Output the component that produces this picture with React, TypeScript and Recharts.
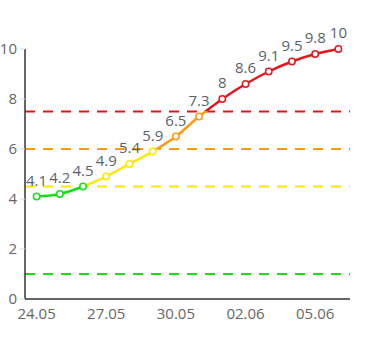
import React from 'react';
import { LineChart, Line, XAxis, YAxis, ReferenceLine, LabelList } from 'recharts';

const dates = ['24.05', '25.05', '26.05', '27.05', '28.05', '29.05', '30.05', '31.05', '01.06', '02.06', '03.06', '04.06', '05.06', '06.06'];
const values = [4.1, 4.2, 4.5, 4.9, 5.4, 5.9, 6.5, 7.3, 8, 8.6, 9.1, 9.5, 9.8, 10];
const yTicks = [0, 2, 4, 6, 8, 10];

// level limits and their colours (value <= limit)
const limits = [4.5, 6, 7.5];
const levelColors = ['#14e014', '#ffe600', '#ff9a0e', '#e8141c'];
const refLines = [1, 4.5, 6, 7.5];
const refColors = ['#14e014', '#ffe600', '#ff9a0e', '#e8141c'];

const chartData = dates.map((d, i) => ({ date: d, value: values[i] }));

const colorFor = (v: number) => {
    for (let i = 0; i < limits.length; i++) {
        if (v <= limits[i]) return levelColors[i];
    }
    return levelColors[levelColors.length - 1];
};

const maxV = Math.max(...values);
const minV = Math.min(...values);

// hard-stop gradient from top (max) to bottom (min)
const stops: { offset: number; color: string }[] = [];
{
    const desc = [...limits].reverse(); // 7.5, 6, 4.5
    let prev = 0;
    let colorIdx = levelColors.length - 1;
    desc.forEach((t) => {
        const off = Math.min(1, Math.max(0, (maxV - t) / (maxV - minV)));
        stops.push({ offset: prev, color: levelColors[colorIdx] });
        stops.push({ offset: off, color: levelColors[colorIdx] });
        prev = off;
        colorIdx--;
    });
    stops.push({ offset: prev, color: levelColors[0] });
    stops.push({ offset: 1, color: levelColors[0] });
}

const Dot = (props: any) => {
    const { cx, cy, payload, index } = props;
    if (cx == null || cy == null) return null;
    return (
        <circle key={`dot-${index}`} cx={cx} cy={cy} r={3.2} fill="#fff" stroke={colorFor(payload.value)} strokeWidth={1.5} />
    );
};

export default function App() {
    return (
        <div style={{ position: 'absolute', left: 0, top: 0, fontFamily: '"Open Sans", sans-serif' }}>
            <LineChart width={375} height={350} data={chartData} margin={{ top: 49, right: 25, bottom: 21, left: 0 }}>
                <defs>
                    <linearGradient id="levelGrad" x1="0" y1="0" x2="0" y2="1">
                        {stops.map((s, i) => (
                            <stop key={i} offset={s.offset} stopColor={s.color} />
                        ))}
                    </linearGradient>
                </defs>
                <XAxis
                    dataKey="date"
                    interval={2}
                    padding={{ left: 11.6, right: 11.6 }}
                    axisLine={{ stroke: '#333', strokeWidth: 1.5 }}
                    tickLine={false}
                    tick={{ fill: '#666', fontSize: 15 }}
                    tickMargin={3}
                    height={30}
                />
                <YAxis
                    domain={[0, 10]}
                    ticks={yTicks}
                    width={25}
                    axisLine={{ stroke: '#333', strokeWidth: 1.5 }}
                    tickLine={{ stroke: '#ddd' }}
                    tickSize={5}
                    tickMargin={3}
                    tick={{ fill: '#666', fontSize: 15 }}
                />
                {refLines.map((v, i) => (
                    <ReferenceLine key={v} y={v} stroke={refColors[i]} strokeWidth={2} strokeDasharray="10 8" />
                ))}
                <Line
                    type="monotone"
                    dataKey="value"
                    stroke="url(#levelGrad)"
                    strokeWidth={2.5}
                    dot={<Dot />}
                    activeDot={false}
                    isAnimationActive={false}
                >
                    <LabelList dataKey="value" position="top" offset={11} fill="#5a5f6e" fontSize={15} />
                </Line>
            </LineChart>
        </div>
    );
}
